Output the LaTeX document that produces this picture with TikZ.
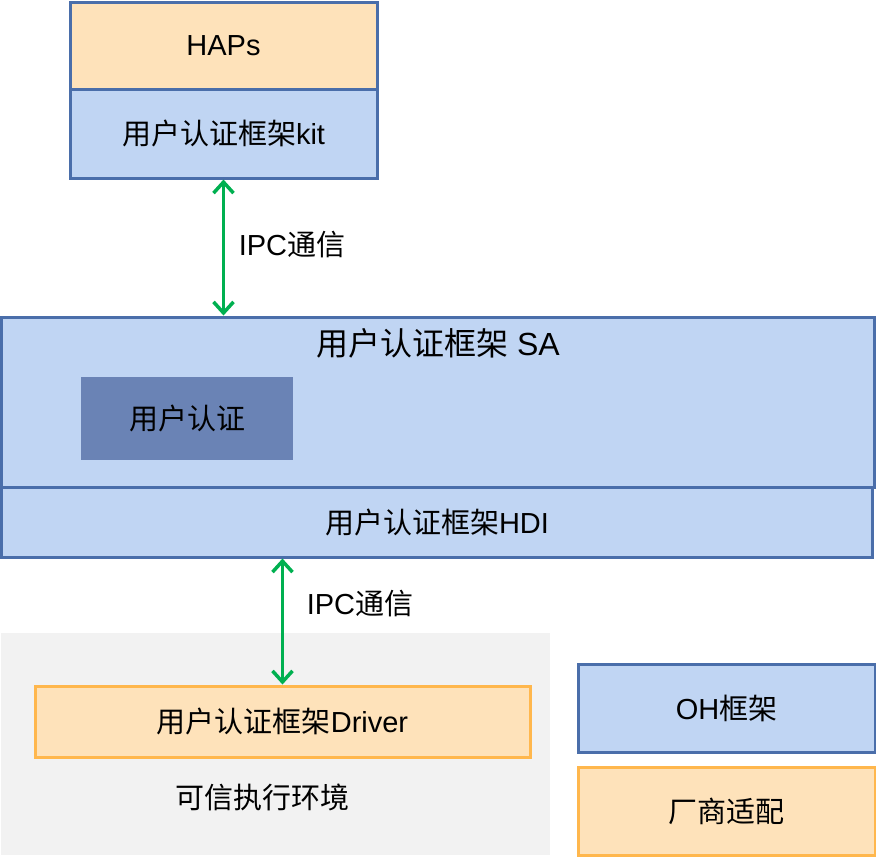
\documentclass[tikz,border=0pt]{standalone}
\usepackage{fontspec}
\setmainfont{Liberation Sans}
\newfontfamily\cjk{Noto Sans CJK SC}
\usetikzlibrary{arrows.meta}
\definecolor{bfill}{HTML}{C0D5F3}
\definecolor{bline}{HTML}{4A6EAA}
\definecolor{ofill}{HTML}{FEE2BA}
\definecolor{oline}{HTML}{FFB74D}
\definecolor{ufill}{HTML}{6A83B5}
\definecolor{tfill}{HTML}{F2F2F2}
\definecolor{gline}{HTML}{00B050}
\tikzset{
  bbox/.style={draw=bline, fill=bfill, line width=3pt, inner sep=0pt, font=\fontsize{29}{33}\selectfont},
  obox/.style={draw=oline, fill=ofill, line width=3pt, inner sep=0pt, font=\fontsize{29}{33}\selectfont},
  lbl/.style={inner sep=0pt, font=\fontsize{29}{33}\selectfont},
  ipc/.style={draw=gline, line width=3.5pt, {Straight Barb[length=11pt,width=20pt,line width=3.5pt]}-{Straight Barb[length=11pt,width=20pt,line width=3.5pt]}}
}
\begin{document}
\begin{tikzpicture}[x=1pt,y=-1pt]
\useasboundingbox (0,0) rectangle (876,857);
% top stack
\node[bbox, fill=ofill, minimum width=307pt, minimum height=87pt] (haps) at (223.5,45.5) {HAPs};
\node[bbox, minimum width=307pt, minimum height=89pt] (kit) at (223.5,133.5) {{\cjk 用户认证框架}kit};
% SA
\node[bbox, minimum width=873pt, minimum height=170pt] (sa) at (438,402) {};
\node[lbl, font=\fontsize{32}{36}\selectfont] (satitle) at (438,343) {{\cjk 用户认证框架} SA};
\node[fill=ufill, inner sep=0pt, minimum width=212pt, minimum height=83pt, font=\fontsize{29}{33}\selectfont] (ua) at (187,418.5) {\cjk 用户认证};
\node[bbox, minimum width=871pt, minimum height=70pt] (hdi) at (437,522) {{\cjk 用户认证框架}HDI};
% TEE
\node[fill=tfill, inner sep=0pt, minimum width=549pt, minimum height=222pt] (tee) at (275.5,744) {};
\node[obox, minimum width=495pt, minimum height=71pt] (drv) at (282.5,721.5) {{\cjk 用户认证框架}Driver};
\node[lbl] (teelbl) at (262,797) {\cjk 可信执行环境};
% legend
\node[bbox, minimum width=297pt, minimum height=88pt] (oh) at (726.5,708) {OH{\cjk 框架}};
\node[obox, minimum width=297pt, minimum height=88pt] (vendor) at (726.5,811) {\cjk 厂商适配};
% arrows
\draw[ipc] (kit.south) -- (sa.north -| kit.south);
\node[lbl] (ipc1) at (292,245) {IPC{\cjk 通信}};
\draw[ipc] (hdi.south -| drv.north) -- (drv.north);
\node[lbl] (ipc2) at (360,604) {IPC{\cjk 通信}};
\end{tikzpicture}
\end{document}
